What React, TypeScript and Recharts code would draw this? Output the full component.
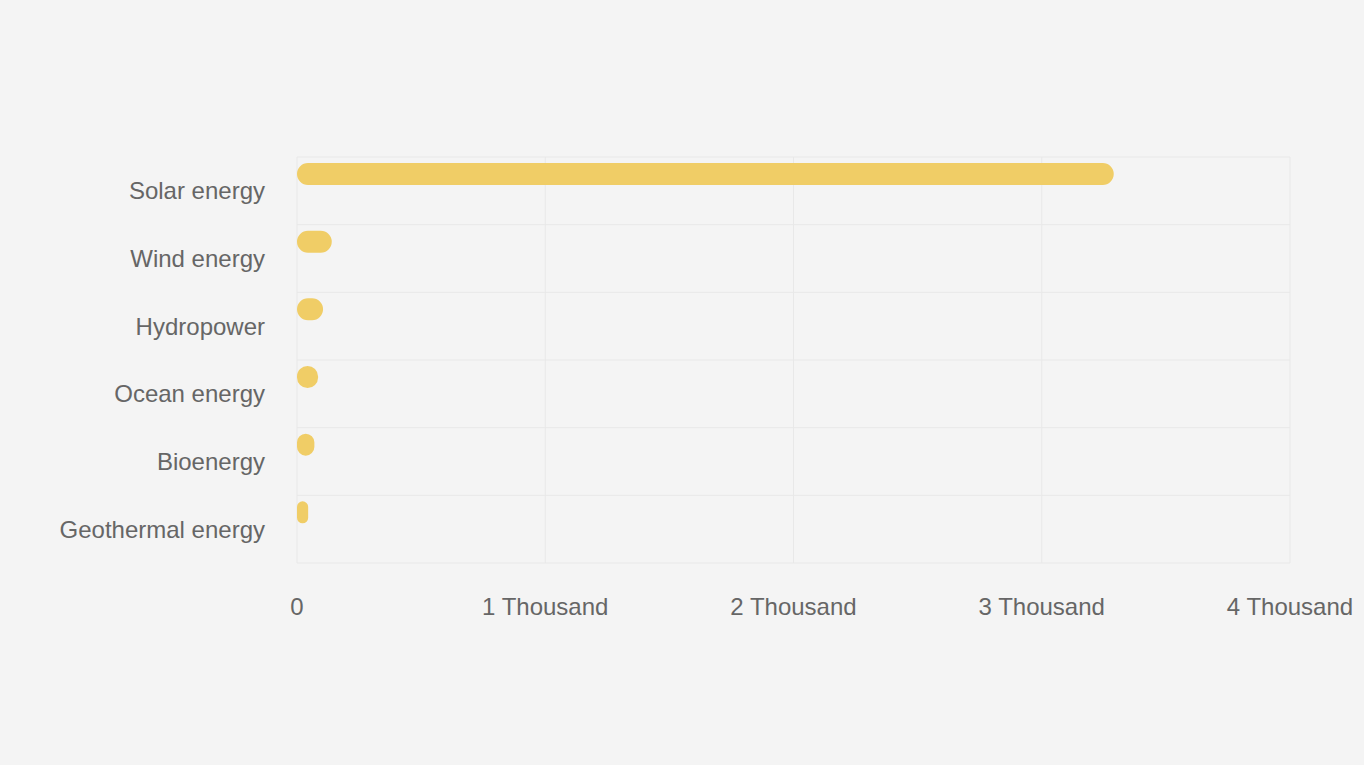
import { BarChart, Bar, XAxis, YAxis, CartesianGrid } from 'recharts';

const categories = [
  'Solar energy',
  'Wind energy',
  'Hydropower',
  'Ocean energy',
  'Bioenergy',
  'Geothermal energy',
];
const capacityValues = [3290, 140, 105, 85, 70, 45];
const comparisonValues = [null, null, null, null, null, null];
const xTicks = [0, 1000, 2000, 3000, 4000];

const data = categories.map((name, i) => ({
  name,
  capacity: capacityValues[i],
  comparison: comparisonValues[i],
}));

const formatTick = (v: number) => (v === 0 ? '0' : `${v / 1000} Thousand`);

const tickStyle = { fill: '#666', fontSize: 24, fontFamily: 'Liberation Sans, Arial, sans-serif' };

export default function App() {
  return (
    <div style={{ width: 1364, height: 765, background: '#f4f4f4' }}>
      <style>{'body{margin:0}'}</style>
      <BarChart
        width={1364}
        height={765}
        data={data}
        layout="vertical"
        margin={{ top: 157, right: 74, bottom: 0, left: 0 }}
        barCategoryGap={6}
        barGap={12}
      >
        <CartesianGrid
          stroke="#e8e8e8"
          horizontalCoordinatesGenerator={({ offset }: any) =>
            categories.concat(['']).map((_, i) => offset.top + (i * offset.height) / categories.length)
          }
        />
        <XAxis
          type="number"
          domain={[0, 4000]}
          ticks={xTicks}
          tickFormatter={formatTick}
          axisLine={false}
          tickLine={false}
          tickMargin={29}
          height={202}
          tick={tickStyle}
        />
        <YAxis
          type="category"
          dataKey="name"
          width={297}
          axisLine={false}
          tickLine={false}
          tickMargin={26}
          tick={tickStyle}
        />
        <Bar dataKey="capacity" fill="#F0CD66" radius={11} isAnimationActive={false} />
        <Bar dataKey="comparison" fill="#F0CD66" radius={11} isAnimationActive={false} />
      </BarChart>
    </div>
  );
}
